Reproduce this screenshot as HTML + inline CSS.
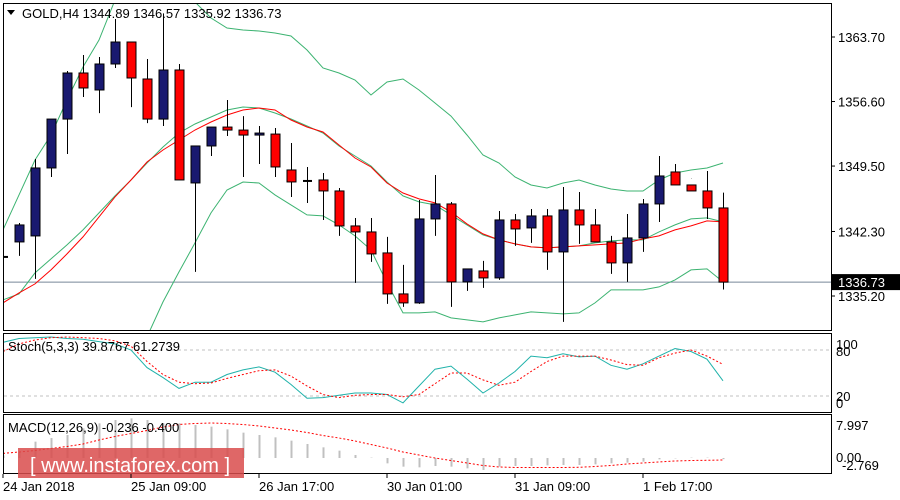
<!DOCTYPE html>
<html><head><meta charset="utf-8"><style>
html,body{margin:0;padding:0;background:#fff;}
svg{display:block;font-family:"Liberation Sans",sans-serif;}
</style></head><body>
<svg id="chart" width="900" height="500" viewBox="0 0 900 500" xmlns="http://www.w3.org/2000/svg">
<rect x="0" y="0" width="900" height="500" fill="#fff"/>
<g id="main"></g>
<g id="stoch"></g>
<g id="macd"></g>
<g id="frame">
<rect x="3.5" y="3.5" width="828" height="327" fill="none" stroke="#000"/>
<rect x="3.5" y="333.5" width="828" height="79" fill="none" stroke="#000"/>
<rect x="3.5" y="414.5" width="828" height="59" fill="none" stroke="#000"/>
</g>
<g id="texts" font-size="13" fill="#000">
<path d="M7 10 L15 10 L11 15 Z" fill="#000"/>
<text x="22" y="18">GOLD,H4  1344.89 1346.57 1335.92 1336.73</text>
<text x="8" y="351">Stoch(5,3,3) 39.8767 61.2739</text>
<text x="8" y="432">MACD(12,26,9) -0.236 -0.400</text>
<text x="836" y="349">100</text>
<text x="836" y="356">80</text>
<text x="836" y="401">20</text>
<text x="836" y="408">0</text>
<text x="836" y="430">7.997</text>
<text x="836" y="462">0.00</text>
<text x="842" y="470">-2.769</text>
</g>
<g id="watermark">
<rect x="18" y="448" width="226" height="30" fill="#d94c4c" fill-opacity="0.85"/>
<text x="30" y="472" font-size="20" fill="#fff">[ www.instaforex.com ]</text>
</g>
</svg>
<script>
const opens=[1339.5,1341.15,1341.81,1349.29,1354.67,1359.74,1357.87,1360.73,1363.15,1359.08,1354.67,1360.07,1347.64,1351.71,1353.79,1353.46,1352.91,1353.02,1349.07,1347.86,1347.97,1346.76,1342.91,1342.25,1339.94,1335.43,1334.44,1343.68,1345.33,1336.75,1337.96,1337.19,1343.57,1342.69,1344.01,1340.05,1344.67,1343.02,1341.15,1338.84,1341.59,1345.33,1348.85,1347.42,1346.76,1344.89];
const highs=[1340.5,1343.24,1350.28,1350.39,1359.96,1361.72,1361.5,1365.68,1363.15,1361.28,1366.3,1360.73,1351.35,1353.35,1356.77,1355.0,1353.9,1353.68,1352.03,1349.4,1348.74,1347.09,1343.79,1343.79,1341.7,1338.62,1345.77,1348.52,1345.55,1338.18,1339.06,1344.56,1344.23,1344.78,1344.78,1347.2,1346.65,1344.78,1341.81,1344.23,1345.88,1350.61,1349.73,1348.08,1348.96,1346.57];
const lows=[1337.5,1339.61,1337.08,1348.3,1350.83,1357.1,1355.33,1360.29,1355.99,1354.23,1353.9,1347.97,1337.85,1350.61,1352.8,1348.3,1349.73,1348.3,1346.1,1345.44,1343.57,1341.81,1336.64,1338.95,1334.33,1334.0,1334.33,1341.81,1334.0,1335.76,1336.09,1336.97,1340.71,1341.04,1338.07,1332.35,1340.93,1341.15,1337.63,1336.75,1340.05,1343.35,1348.1,1348.1,1343.68,1335.92];
const closes=[1339.5,1343.02,1349.29,1354.67,1359.74,1358.09,1360.73,1363.15,1359.19,1354.67,1360.07,1347.97,1351.71,1353.79,1353.46,1352.91,1353.13,1349.4,1347.75,1347.86,1346.76,1342.91,1342.25,1339.83,1335.43,1334.44,1343.68,1345.33,1336.75,1338.18,1337.19,1343.57,1342.58,1344.01,1340.05,1344.67,1343.02,1341.15,1338.84,1341.59,1345.33,1348.41,1347.42,1346.76,1344.89,1336.73];
const bbUpper=[1342.47,1346.32,1350.17,1352.92,1356.77,1360.4,1363.37,1367.77,1369.97,1371.07,1371.07,1369.42,1367.55,1365.79,1364.69,1364.47,1364.36,1364.14,1363.81,1362.27,1360.29,1359.74,1358.97,1357.32,1358.75,1359.08,1357.87,1356.44,1355.0,1352.92,1350.72,1349.84,1348.3,1347.42,1347.09,1347.64,1347.97,1347.42,1346.98,1346.76,1346.76,1347.97,1348.74,1349.07,1349.29,1349.84];
const bbMiddle=[1334.77,1335.43,1337.74,1339.28,1340.82,1342.47,1344.34,1346.21,1347.97,1349.84,1351.6,1353.14,1354.13,1354.9,1355.67,1356.0,1355.89,1355.34,1354.68,1353.91,1353.14,1351.71,1350.61,1349.51,1347.75,1346.21,1345.55,1345.22,1344.12,1343.02,1341.92,1341.37,1340.93,1340.6,1340.49,1340.6,1340.71,1341.04,1341.26,1341.37,1341.37,1342.25,1343.02,1343.68,1343.79,1343.35];
const bbLower=[1317.72,1317.17,1316.62,1316.62,1317.17,1318.27,1320.47,1323.22,1326.85,1330.7,1334.55,1337.85,1341.04,1344.34,1346.87,1347.75,1347.64,1346.32,1345.22,1344.12,1344.01,1343.02,1341.81,1340.27,1336.64,1333.34,1333.34,1333.45,1332.79,1332.57,1332.35,1332.79,1333.12,1333.45,1333.34,1333.23,1333.34,1334.44,1335.87,1335.87,1335.87,1336.2,1336.97,1338.07,1338.18,1336.75];
const maRed=[1334.44,1335.54,1336.53,1338.07,1339.83,1341.7,1343.9,1346.1,1347.97,1349.95,1351.27,1352.37,1353.47,1354.35,1355.12,1355.67,1355.89,1355.67,1354.57,1353.8,1353.25,1351.82,1350.39,1349.4,1347.64,1346.54,1345.88,1345.44,1344.45,1343.13,1342.03,1341.37,1340.93,1340.6,1340.49,1340.6,1340.71,1340.82,1340.93,1341.04,1341.48,1341.81,1342.47,1342.91,1343.46,1343.35];
const stochMain=[90,95,96,97,95,94,91,88,80,57,44,30,38,38,48,54,58,51,35,17,18,21,24,24,22,11,33,55,59,42,24,37,52,72,70,75,71,72,60,55,62,72,82,78,68,39.88];
const stochSignal=[78,88,93,96,97,96,95,92,85,65,48,38,36,37,43,48,53,54,46,33,22,18,21,22,22,19,22,36,50,50,41,34,38,52,65,72,72,72,67,61,60,70,76,80,72,61.27];
const macdHist=[0.5,1.27,3.27,4.0,4.6,5.93,6.93,7.6,7.93,7.6,6.93,6.93,6.6,6.27,5.73,5.07,4.6,4.13,3.47,2.8,2.13,1.47,0.6,0.07,-1.07,-1.73,-1.87,-1.6,-1.73,-2.07,-2.4,-1.73,-1.6,-1.6,-1.47,-1.4,-1.4,-1.27,-1.07,-0.93,-0.73,-0.27,-0.07,0.07,0.07,-0.236];
const macdSignal=[0.93,1.2,1.5,1.9,2.3,2.8,3.6,4.3,4.9,5.5,6.2,6.7,6.9,7.0,6.9,6.7,6.4,6.0,5.6,5.1,4.5,4.0,3.4,2.7,2.0,1.2,0.6,0.0,-0.5,-1.0,-1.5,-1.8,-1.9,-1.9,-1.9,-1.9,-1.85,-1.7,-1.5,-1.2,-1.0,-0.8,-0.6,-0.5,-0.45,-0.4];
const priceTicks=[1363.70,1356.60,1349.50,1342.30,1335.20];
const timeLabels=["24 Jan 2018","25 Jan 09:00","26 Jan 17:00","30 Jan 01:00","31 Jan 09:00","1 Feb 17:00"];
const timeLabelIndex=[0,8,16,24,32,40];
const lastPrice=1336.73;

const NS="http://www.w3.org/2000/svg";
function mk(tag,attrs,parent){const e=document.createElementNS(NS,tag);for(const k in attrs)e.setAttribute(k,attrs[k]);if(parent)parent.appendChild(e);return e;}
const xAt=i=>3+16*i;
const yPrice=p=>37+(1363.7-p)*9.088;
const yStoch=v=>350+(80-v)*0.767;
const yMacd=v=>458-v*5.0;

const svg=document.getElementById('chart');
const defs=mk('defs',{},svg);
const cp=mk('clipPath',{id:'clipMain'},defs);mk('rect',{x:4,y:4,width:827,height:326},cp);
const cs=mk('clipPath',{id:'clipStoch'},defs);mk('rect',{x:4,y:334,width:827,height:78},cs);
const cm=mk('clipPath',{id:'clipMacd'},defs);mk('rect',{x:4,y:415,width:827,height:58},cm);

const main=document.getElementById('main');
const mg=mk('g',{'clip-path':'url(#clipMain)'},main);
const lp=mk('line',{x1:4,x2:831,y1:yPrice(lastPrice),y2:yPrice(lastPrice),stroke:'#778899','stroke-width':1},mg);


function line(arr,yf,attrs,parent,name){const d=arr.map((v,i)=>(i?'L':'M')+xAt(i)+' '+yf(v).toFixed(1)).join(' ');const e=mk('path',Object.assign({d:d,fill:'none'},attrs),parent);return e;}
line(bbUpper,yPrice,{stroke:'#3cb371','stroke-width':1},mg,'bollinger-upper');
line(bbMiddle,yPrice,{stroke:'#3cb371','stroke-width':1},mg,'bollinger-middle');
line(bbLower,yPrice,{stroke:'#3cb371','stroke-width':1},mg,'bollinger-lower');
line(maRed,yPrice,{stroke:'#ff0000','stroke-width':1},mg,'moving-average');
for(let i=0;i<opens.length;i++){
  const x=xAt(i),o=opens[i],c=closes[i];
  const g=mk('g',{},mg);
  
  
  mk('line',{x1:x+0.5,x2:x+0.5,y1:yPrice(highs[i]),y2:yPrice(lows[i]),stroke:'#000','stroke-width':1},g);
  const top=yPrice(Math.max(o,c)),bot=yPrice(Math.min(o,c));
  if(bot-top<1.5){mk('line',{x1:x-4,x2:x+5,y1:top,y2:top,stroke:'#000','stroke-width':2},g);}
  else mk('rect',{x:x-4,y:top,width:9,height:bot-top,fill:c>=o?'#191970':'#ff0000',stroke:'#000','stroke-width':1},g);
}
priceTicks.forEach(p=>{
  const y=yPrice(p);
  const t=mk('line',{x1:831,x2:835,y1:y,y2:y,stroke:'#000'},main);
  
  
  const tx=mk('text',{x:838,y:y+5,'font-size':13},main);tx.textContent=p.toFixed(2);
  
  
});
const ly=yPrice(lastPrice);
const tag=mk('rect',{x:832,y:ly-8,width:68,height:16,fill:'#000'},main);


const tagt=mk('text',{x:838,y:ly+5,'font-size':13,fill:'#fff'},main);tagt.textContent=lastPrice.toFixed(2);



const st=document.getElementById('stoch');
const sg=mk('g',{'clip-path':'url(#clipStoch)'},st);
[80,20].forEach(v=>{const l=mk('line',{x1:4,x2:831,y1:yStoch(v),y2:yStoch(v),stroke:'#c0c0c0','stroke-dasharray':'3,3'},sg);

});
line(stochMain,yStoch,{stroke:'#20b2aa','stroke-width':1},sg,'stoch-main-line');
line(stochSignal,yStoch,{stroke:'#ff0000','stroke-width':1,'stroke-dasharray':'2,2'},sg,'stoch-signal-line');

const mc=document.getElementById('macd');
const hg=mk('g',{'clip-path':'url(#clipMacd)'},mc);
macdHist.forEach((v,i)=>{const b=mk('line',{x1:xAt(i)+0.5,x2:xAt(i)+0.5,y1:yMacd(0),y2:yMacd(v),stroke:'#c0c0c0','stroke-width':2},hg);

});
line(macdSignal,yMacd,{stroke:'#ff0000','stroke-width':1,'stroke-dasharray':'2,2'},hg,'macd-signal-line');
svg.appendChild(document.getElementById('watermark'));

timeLabels.forEach((s,k)=>{const x=xAt(timeLabelIndex[k]);
const t=mk('line',{x1:x,x2:x,y1:474,y2:478,stroke:'#000'},svg);


const tx=mk('text',{x:x,y:491,'font-size':13},svg);tx.textContent=s;

});
</script>
</body></html>
